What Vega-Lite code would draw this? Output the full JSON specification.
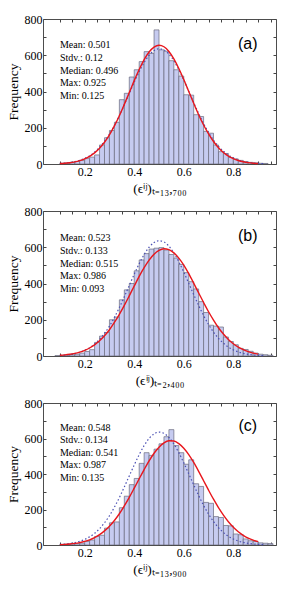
{
  "$schema": "https://vega.github.io/schema/vega-lite/v6.json",
  "padding": {"left": 5, "top": 12, "right": 10, "bottom": 2},
  "spacing": 9,
  "config": {
    "view": {"stroke": "#4d4d4d", "strokeWidth": 1},
    "font": "Liberation Serif",
    "axis": {"domain": false, "grid": false, "tickColor": "#444", "tickSize": -3, "labelFont": "Liberation Serif", "labelFontSize": 12, "labelColor": "#000", "titleFont": "Liberation Serif", "titleFontSize": 13.5, "titleFontWeight": "normal", "titleColor": "#000", "labelOverlap": false, "labelPadding": 4}
  },
  "vconcat": [
    {
      "width": 233, "height": 145,
      "resolve": {"axis": {"x": "independent", "y": "independent"}},
      "layer": [
        {
          "data": {"values": [
            {"lo":0.10,"hi":0.12,"n":4},{"lo":0.12,"hi":0.14,"n":6},{"lo":0.14,"hi":0.16,"n":9},{"lo":0.16,"hi":0.18,"n":14},{"lo":0.18,"hi":0.20,"n":20},
            {"lo":0.20,"hi":0.22,"n":30},{"lo":0.22,"hi":0.24,"n":38},{"lo":0.24,"hi":0.26,"n":50},{"lo":0.26,"hi":0.28,"n":105},{"lo":0.28,"hi":0.30,"n":145},
            {"lo":0.30,"hi":0.32,"n":185},{"lo":0.32,"hi":0.34,"n":230},{"lo":0.34,"hi":0.36,"n":355},{"lo":0.36,"hi":0.38,"n":390},{"lo":0.38,"hi":0.40,"n":480},
            {"lo":0.40,"hi":0.42,"n":520},{"lo":0.42,"hi":0.44,"n":565},{"lo":0.44,"hi":0.46,"n":620},{"lo":0.46,"hi":0.48,"n":610},{"lo":0.48,"hi":0.50,"n":740},
            {"lo":0.50,"hi":0.52,"n":630},{"lo":0.52,"hi":0.54,"n":622},{"lo":0.54,"hi":0.56,"n":570},{"lo":0.56,"hi":0.58,"n":520},{"lo":0.58,"hi":0.60,"n":485},
            {"lo":0.60,"hi":0.62,"n":382},{"lo":0.62,"hi":0.64,"n":380},{"lo":0.64,"hi":0.66,"n":272},{"lo":0.66,"hi":0.68,"n":262},{"lo":0.68,"hi":0.70,"n":180},
            {"lo":0.70,"hi":0.72,"n":170},{"lo":0.72,"hi":0.74,"n":105},{"lo":0.74,"hi":0.76,"n":68},{"lo":0.76,"hi":0.78,"n":58},{"lo":0.78,"hi":0.80,"n":36},
            {"lo":0.80,"hi":0.82,"n":28},{"lo":0.82,"hi":0.84,"n":20},{"lo":0.84,"hi":0.86,"n":13},{"lo":0.86,"hi":0.88,"n":9},{"lo":0.88,"hi":0.90,"n":6},
            {"lo":0.90,"hi":0.92,"n":4},{"lo":0.92,"hi":0.94,"n":3}
          ]},
          "mark": {"type": "bar", "orient": "vertical", "fill": "#c6cbf0", "stroke": "#6a6a7c", "strokeWidth": 0.7, "clip": true},
          "encoding": {
            "x": {"field": "lo", "type": "quantitative", "scale": {"domain": [0.052, 0.952], "nice": false, "zero": false},
                  "axis": {"orient": "bottom", "title": "(ϵⁱʲ)ₜ₌₁₃,₇₀₀", "values": [0.1,0.15,0.2,0.25,0.3,0.35,0.4,0.45,0.5,0.55,0.6,0.65,0.7,0.75,0.8,0.85,0.9,0.95], "labelExpr": "abs(datum.value*5 - round(datum.value*5)) < 0.001 ? format(datum.value, '.1f') : ''", "labelPadding": 5, "titlePadding": 4}},
            "x2": {"field": "hi"},
            "y": {"field": "n", "type": "quantitative", "scale": {"domain": [0, 800], "nice": false},
                  "axis": {"orient": "left", "title": "Frequency", "values": [0,100,200,300,400,500,600,700,800], "labelExpr": "datum.value % 200 == 0 ? datum.label : ''", "titlePadding": 4}},
            "y2": {"datum": 0}
          }
        },
        {
          "data": {"values": [
            {"x":0.10,"y":3.0},{"x":0.12,"y":5.1},{"x":0.14,"y":8.4},{"x":0.16,"y":13.3},{"x":0.18,"y":20.7},{"x":0.20,"y":31.2},{"x":0.22,"y":45.9},{"x":0.24,"y":65.8},{"x":0.26,"y":91.8},{"x":0.28,"y":125},
            {"x":0.30,"y":165},{"x":0.32,"y":213},{"x":0.34,"y":267},{"x":0.36,"y":327},{"x":0.38,"y":389},{"x":0.40,"y":451},{"x":0.42,"y":509},{"x":0.44,"y":560},{"x":0.46,"y":600},{"x":0.48,"y":626},
            {"x":0.50,"y":636},{"x":0.52,"y":629},{"x":0.54,"y":606},{"x":0.56,"y":569},{"x":0.58,"y":520},{"x":0.60,"y":463},{"x":0.62,"y":401},{"x":0.64,"y":339},{"x":0.66,"y":279},{"x":0.68,"y":223},
            {"x":0.70,"y":174},{"x":0.72,"y":132},{"x":0.74,"y":97.8},{"x":0.76,"y":70.5},{"x":0.78,"y":49.5},{"x":0.80,"y":33.8},{"x":0.82,"y":22.5},{"x":0.84,"y":14.6},{"x":0.86,"y":9.2},{"x":0.88,"y":5.7},{"x":0.90,"y":3.4},{"x":0.92,"y":2.0}
          ]},
          "mark": {"type": "line", "color": "#4b50b4", "strokeWidth": 1.2, "strokeDash": [1.5, 2.2], "interpolate": "monotone"},
          "encoding": {
            "x": {"field": "x", "type": "quantitative", "axis": {"orient": "top", "title": null, "labels": false, "values": [0.1,0.15,0.2,0.25,0.3,0.35,0.4,0.45,0.5,0.55,0.6,0.65,0.7,0.75,0.8,0.85,0.9,0.95]}},
            "y": {"field": "y", "type": "quantitative", "axis": {"orient": "right", "title": null, "labels": false, "values": [0,100,200,300,400,500,600,700,800]}}
          }
        },
        {
          "data": {"values": [
            {"x":0.10,"y":2.5},{"x":0.12,"y":4.2},{"x":0.14,"y":7.1},{"x":0.16,"y":11.5},{"x":0.18,"y":18.3},{"x":0.20,"y":28.2},{"x":0.22,"y":42.2},{"x":0.24,"y":61.5},{"x":0.26,"y":87.2},{"x":0.28,"y":120},
            {"x":0.30,"y":161},{"x":0.32,"y":210},{"x":0.34,"y":266},{"x":0.36,"y":329},{"x":0.38,"y":394},{"x":0.40,"y":460},{"x":0.42,"y":521},{"x":0.44,"y":576},{"x":0.46,"y":618},{"x":0.48,"y":645},
            {"x":0.50,"y":655},{"x":0.52,"y":647},{"x":0.54,"y":621},{"x":0.56,"y":580},{"x":0.58,"y":527},{"x":0.60,"y":466},{"x":0.62,"y":400},{"x":0.64,"y":335},{"x":0.66,"y":272},{"x":0.68,"y":215},
            {"x":0.70,"y":166},{"x":0.72,"y":124},{"x":0.74,"y":90},{"x":0.76,"y":63.8},{"x":0.78,"y":43.9},{"x":0.80,"y":29.4},{"x":0.82,"y":19.1},{"x":0.84,"y":12.1},{"x":0.86,"y":7.5},{"x":0.88,"y":4.5},{"x":0.90,"y":2.6}
          ]},
          "mark": {"type": "line", "color": "#e8161c", "strokeWidth": 1.4, "interpolate": "monotone"},
          "encoding": {
            "x": {"field": "x", "type": "quantitative", "axis": null},
            "y": {"field": "y", "type": "quantitative", "axis": null}
          }
        },
        {
          "data": {"values": [
            {"x":0.1,"y":655,"t":"Mean: 0.501"},{"x":0.1,"y":585,"t":"Stdv.: 0.12"},{"x":0.1,"y":515,"t":"Median: 0.496"},{"x":0.1,"y":445,"t":"Max: 0.925"},{"x":0.1,"y":375,"t":"Min: 0.125"}
          ]},
          "mark": {"type": "text", "align": "left", "baseline": "middle", "font": "Liberation Serif", "fontSize": 10, "color": "#000"},
          "encoding": {
            "x": {"field": "x", "type": "quantitative", "axis": null},
            "y": {"field": "y", "type": "quantitative", "axis": null},
            "text": {"field": "t"}
          }
        },
        {
          "data": {"values": [{"x":0.858,"y":660,"t":"(a)"}]},
          "mark": {"type": "text", "align": "center", "baseline": "middle", "font": "Liberation Sans", "fontSize": 16, "color": "#000"},
          "encoding": {
            "x": {"field": "x", "type": "quantitative", "axis": null},
            "y": {"field": "y", "type": "quantitative", "axis": null},
            "text": {"field": "t"}
          }
        }
      ]
    },
    {
      "width": 233, "height": 145,
      "resolve": {"axis": {"x": "independent", "y": "independent"}},
      "layer": [
        {
          "data": {"values": [
            {"lo":0.08,"hi":0.10,"n":2},{"lo":0.10,"hi":0.12,"n":3},{"lo":0.12,"hi":0.14,"n":5},{"lo":0.14,"hi":0.16,"n":7},{"lo":0.16,"hi":0.18,"n":10},{"lo":0.18,"hi":0.20,"n":16},
            {"lo":0.20,"hi":0.22,"n":25},{"lo":0.22,"hi":0.24,"n":35},{"lo":0.24,"hi":0.26,"n":75},{"lo":0.26,"hi":0.28,"n":110},{"lo":0.28,"hi":0.30,"n":130},
            {"lo":0.30,"hi":0.32,"n":200},{"lo":0.32,"hi":0.34,"n":215},{"lo":0.34,"hi":0.36,"n":310},{"lo":0.36,"hi":0.38,"n":365},{"lo":0.38,"hi":0.40,"n":400},
            {"lo":0.40,"hi":0.42,"n":470},{"lo":0.42,"hi":0.44,"n":530},{"lo":0.44,"hi":0.46,"n":565},{"lo":0.46,"hi":0.48,"n":590},{"lo":0.48,"hi":0.50,"n":595},
            {"lo":0.50,"hi":0.52,"n":598},{"lo":0.52,"hi":0.54,"n":585},{"lo":0.54,"hi":0.56,"n":560},{"lo":0.56,"hi":0.58,"n":540},{"lo":0.58,"hi":0.60,"n":505},
            {"lo":0.60,"hi":0.62,"n":460},{"lo":0.62,"hi":0.64,"n":410},{"lo":0.64,"hi":0.66,"n":370},{"lo":0.66,"hi":0.68,"n":300},{"lo":0.68,"hi":0.70,"n":240},
            {"lo":0.70,"hi":0.72,"n":170},{"lo":0.72,"hi":0.74,"n":165},{"lo":0.74,"hi":0.76,"n":160},{"lo":0.76,"hi":0.78,"n":105},{"lo":0.78,"hi":0.80,"n":80},
            {"lo":0.80,"hi":0.82,"n":62},{"lo":0.82,"hi":0.84,"n":42},{"lo":0.84,"hi":0.86,"n":36},{"lo":0.86,"hi":0.88,"n":26},{"lo":0.88,"hi":0.90,"n":16},
            {"lo":0.90,"hi":0.92,"n":10},{"lo":0.92,"hi":0.94,"n":7},{"lo":0.94,"hi":0.96,"n":4}
          ]},
          "mark": {"type": "bar", "orient": "vertical", "fill": "#c6cbf0", "stroke": "#6a6a7c", "strokeWidth": 0.7, "clip": true},
          "encoding": {
            "x": {"field": "lo", "type": "quantitative", "scale": {"domain": [0.052, 0.952], "nice": false, "zero": false},
                  "axis": {"orient": "bottom", "title": "(ϵⁱʲ)ₜ₌₂,₄₀₀", "values": [0.1,0.15,0.2,0.25,0.3,0.35,0.4,0.45,0.5,0.55,0.6,0.65,0.7,0.75,0.8,0.85,0.9,0.95], "labelExpr": "abs(datum.value*5 - round(datum.value*5)) < 0.001 ? format(datum.value, '.1f') : ''", "labelPadding": 5, "titlePadding": 4}},
            "x2": {"field": "hi"},
            "y": {"field": "n", "type": "quantitative", "scale": {"domain": [0, 800], "nice": false},
                  "axis": {"orient": "left", "title": "Frequency", "values": [0,100,200,300,400,500,600,700,800], "labelExpr": "datum.value % 200 == 0 ? datum.label : ''", "titlePadding": 4}},
            "y2": {"datum": 0}
          }
        },
        {
          "data": {"values": [
            {"x":0.10,"y":3.0},{"x":0.12,"y":5.1},{"x":0.14,"y":8.4},{"x":0.16,"y":13.3},{"x":0.18,"y":20.7},{"x":0.20,"y":31.2},{"x":0.22,"y":45.9},{"x":0.24,"y":65.8},{"x":0.26,"y":91.8},{"x":0.28,"y":125},
            {"x":0.30,"y":165},{"x":0.32,"y":213},{"x":0.34,"y":267},{"x":0.36,"y":327},{"x":0.38,"y":389},{"x":0.40,"y":451},{"x":0.42,"y":509},{"x":0.44,"y":560},{"x":0.46,"y":600},{"x":0.48,"y":626},
            {"x":0.50,"y":636},{"x":0.52,"y":629},{"x":0.54,"y":606},{"x":0.56,"y":569},{"x":0.58,"y":520},{"x":0.60,"y":463},{"x":0.62,"y":401},{"x":0.64,"y":339},{"x":0.66,"y":279},{"x":0.68,"y":223},
            {"x":0.70,"y":174},{"x":0.72,"y":132},{"x":0.74,"y":97.8},{"x":0.76,"y":70.5},{"x":0.78,"y":49.5},{"x":0.80,"y":33.8},{"x":0.82,"y":22.5},{"x":0.84,"y":14.6},{"x":0.86,"y":9.2},{"x":0.88,"y":5.7},{"x":0.90,"y":3.4},{"x":0.92,"y":2.0}
          ]},
          "mark": {"type": "line", "color": "#4b50b4", "strokeWidth": 1.2, "strokeDash": [1.5, 2.2], "interpolate": "monotone"},
          "encoding": {
            "x": {"field": "x", "type": "quantitative", "axis": {"orient": "top", "title": null, "labels": false, "values": [0.1,0.15,0.2,0.25,0.3,0.35,0.4,0.45,0.5,0.55,0.6,0.65,0.7,0.75,0.8,0.85,0.9,0.95]}},
            "y": {"field": "y", "type": "quantitative", "axis": {"orient": "right", "title": null, "labels": false, "values": [0,100,200,300,400,500,600,700,800]}}
          }
        },
        {
          "data": {"values": [
            {"x":0.10,"y":3.8},{"x":0.12,"y":6.0},{"x":0.14,"y":9.4},{"x":0.16,"y":14.3},{"x":0.18,"y":21.3},{"x":0.20,"y":31.0},{"x":0.22,"y":44.2},{"x":0.24,"y":61.5},{"x":0.26,"y":83.8},{"x":0.28,"y":111.5},
            {"x":0.30,"y":145},{"x":0.32,"y":185},{"x":0.34,"y":230},{"x":0.36,"y":279},{"x":0.38,"y":332},{"x":0.40,"y":386},{"x":0.42,"y":439},{"x":0.44,"y":487},{"x":0.46,"y":529},{"x":0.48,"y":562},
            {"x":0.50,"y":583},{"x":0.52,"y":592},{"x":0.54,"y":587},{"x":0.56,"y":569},{"x":0.58,"y":540},{"x":0.60,"y":501},{"x":0.62,"y":454},{"x":0.64,"y":402},{"x":0.66,"y":348},{"x":0.68,"y":295},
            {"x":0.70,"y":244},{"x":0.72,"y":198},{"x":0.74,"y":156},{"x":0.76,"y":121},{"x":0.78,"y":91.5},{"x":0.80,"y":67.7},{"x":0.82,"y":49},{"x":0.84,"y":34.6},{"x":0.86,"y":23.9},{"x":0.88,"y":16.2},{"x":0.90,"y":10.6}
          ]},
          "mark": {"type": "line", "color": "#e8161c", "strokeWidth": 1.4, "interpolate": "monotone"},
          "encoding": {
            "x": {"field": "x", "type": "quantitative", "axis": null},
            "y": {"field": "y", "type": "quantitative", "axis": null}
          }
        },
        {
          "data": {"values": [
            {"x":0.1,"y":650,"t":"Mean: 0.523"},{"x":0.1,"y":580,"t":"Stdv.: 0.133"},{"x":0.1,"y":510,"t":"Median: 0.515"},{"x":0.1,"y":440,"t":"Max: 0.986"},{"x":0.1,"y":370,"t":"Min: 0.093"}
          ]},
          "mark": {"type": "text", "align": "left", "baseline": "middle", "font": "Liberation Serif", "fontSize": 10, "color": "#000"},
          "encoding": {
            "x": {"field": "x", "type": "quantitative", "axis": null},
            "y": {"field": "y", "type": "quantitative", "axis": null},
            "text": {"field": "t"}
          }
        },
        {
          "data": {"values": [{"x":0.858,"y":660,"t":"(b)"}]},
          "mark": {"type": "text", "align": "center", "baseline": "middle", "font": "Liberation Sans", "fontSize": 16, "color": "#000"},
          "encoding": {
            "x": {"field": "x", "type": "quantitative", "axis": null},
            "y": {"field": "y", "type": "quantitative", "axis": null},
            "text": {"field": "t"}
          }
        }
      ]
    },
    {
      "width": 233, "height": 142,
      "resolve": {"axis": {"x": "independent", "y": "independent"}},
      "layer": [
        {
          "data": {"values": [
            {"lo":0.10,"hi":0.12,"n":3},{"lo":0.12,"hi":0.14,"n":5},{"lo":0.14,"hi":0.16,"n":6},{"lo":0.16,"hi":0.18,"n":8},{"lo":0.18,"hi":0.20,"n":10},
            {"lo":0.20,"hi":0.22,"n":20},{"lo":0.22,"hi":0.24,"n":28},{"lo":0.24,"hi":0.26,"n":48},{"lo":0.26,"hi":0.28,"n":55},{"lo":0.28,"hi":0.30,"n":95},
            {"lo":0.30,"hi":0.32,"n":125},{"lo":0.32,"hi":0.34,"n":130},{"lo":0.34,"hi":0.36,"n":210},{"lo":0.36,"hi":0.38,"n":275},{"lo":0.38,"hi":0.40,"n":340},
            {"lo":0.40,"hi":0.42,"n":375},{"lo":0.42,"hi":0.44,"n":460},{"lo":0.44,"hi":0.46,"n":520},{"lo":0.46,"hi":0.48,"n":505},{"lo":0.48,"hi":0.50,"n":540},
            {"lo":0.50,"hi":0.52,"n":570},{"lo":0.52,"hi":0.54,"n":610},{"lo":0.54,"hi":0.56,"n":650},{"lo":0.56,"hi":0.58,"n":560},{"lo":0.58,"hi":0.60,"n":520},
            {"lo":0.60,"hi":0.62,"n":455},{"lo":0.62,"hi":0.64,"n":480},{"lo":0.64,"hi":0.66,"n":345},{"lo":0.66,"hi":0.68,"n":330},{"lo":0.68,"hi":0.70,"n":240},
            {"lo":0.70,"hi":0.72,"n":235},{"lo":0.72,"hi":0.74,"n":160},{"lo":0.74,"hi":0.76,"n":155},{"lo":0.76,"hi":0.78,"n":110},{"lo":0.78,"hi":0.80,"n":108},
            {"lo":0.80,"hi":0.82,"n":62},{"lo":0.82,"hi":0.84,"n":58},{"lo":0.84,"hi":0.86,"n":34},{"lo":0.86,"hi":0.88,"n":24},{"lo":0.88,"hi":0.90,"n":20},
            {"lo":0.90,"hi":0.92,"n":12},{"lo":0.92,"hi":0.94,"n":10},{"lo":0.94,"hi":0.96,"n":8}
          ]},
          "mark": {"type": "bar", "orient": "vertical", "fill": "#c6cbf0", "stroke": "#6a6a7c", "strokeWidth": 0.7, "clip": true},
          "encoding": {
            "x": {"field": "lo", "type": "quantitative", "scale": {"domain": [0.052, 0.952], "nice": false, "zero": false},
                  "axis": {"orient": "bottom", "title": "(ϵⁱʲ)ₜ₌₁₃,₉₀₀", "values": [0.1,0.15,0.2,0.25,0.3,0.35,0.4,0.45,0.5,0.55,0.6,0.65,0.7,0.75,0.8,0.85,0.9,0.95], "labelExpr": "abs(datum.value*5 - round(datum.value*5)) < 0.001 ? format(datum.value, '.1f') : ''", "labelPadding": 5, "titlePadding": 4}},
            "x2": {"field": "hi"},
            "y": {"field": "n", "type": "quantitative", "scale": {"domain": [0, 800], "nice": false},
                  "axis": {"orient": "left", "title": "Frequency", "values": [0,100,200,300,400,500,600,700,800], "labelExpr": "datum.value % 200 == 0 ? datum.label : ''", "titlePadding": 4}},
            "y2": {"datum": 0}
          }
        },
        {
          "data": {"values": [
            {"x":0.10,"y":3.0},{"x":0.12,"y":5.1},{"x":0.14,"y":8.4},{"x":0.16,"y":13.3},{"x":0.18,"y":20.7},{"x":0.20,"y":31.2},{"x":0.22,"y":45.9},{"x":0.24,"y":65.8},{"x":0.26,"y":91.8},{"x":0.28,"y":125},
            {"x":0.30,"y":165},{"x":0.32,"y":213},{"x":0.34,"y":267},{"x":0.36,"y":327},{"x":0.38,"y":389},{"x":0.40,"y":451},{"x":0.42,"y":509},{"x":0.44,"y":560},{"x":0.46,"y":600},{"x":0.48,"y":626},
            {"x":0.50,"y":636},{"x":0.52,"y":629},{"x":0.54,"y":606},{"x":0.56,"y":569},{"x":0.58,"y":520},{"x":0.60,"y":463},{"x":0.62,"y":401},{"x":0.64,"y":339},{"x":0.66,"y":279},{"x":0.68,"y":223},
            {"x":0.70,"y":174},{"x":0.72,"y":132},{"x":0.74,"y":97.8},{"x":0.76,"y":70.5},{"x":0.78,"y":49.5},{"x":0.80,"y":33.8},{"x":0.82,"y":22.5},{"x":0.84,"y":14.6},{"x":0.86,"y":9.2},{"x":0.88,"y":5.7},{"x":0.90,"y":3.4},{"x":0.92,"y":2.0}
          ]},
          "mark": {"type": "line", "color": "#4b50b4", "strokeWidth": 1.2, "strokeDash": [1.5, 2.2], "interpolate": "monotone"},
          "encoding": {
            "x": {"field": "x", "type": "quantitative", "axis": {"orient": "top", "title": null, "labels": false, "values": [0.1,0.15,0.2,0.25,0.3,0.35,0.4,0.45,0.5,0.55,0.6,0.65,0.7,0.75,0.8,0.85,0.9,0.95]}},
            "y": {"field": "y", "type": "quantitative", "axis": {"orient": "right", "title": null, "labels": false, "values": [0,100,200,300,400,500,600,700,800]}}
          }
        },
        {
          "data": {"values": [
            {"x":0.10,"y":2.2},{"x":0.12,"y":3.6},{"x":0.14,"y":5.7},{"x":0.16,"y":8.9},{"x":0.18,"y":13.5},{"x":0.20,"y":20.2},{"x":0.22,"y":29.4},{"x":0.24,"y":41.9},{"x":0.26,"y":58.4},{"x":0.28,"y":79.6},
            {"x":0.30,"y":106},{"x":0.32,"y":138},{"x":0.34,"y":176},{"x":0.36,"y":220},{"x":0.38,"y":268},{"x":0.40,"y":320},{"x":0.42,"y":373},{"x":0.44,"y":425},{"x":0.46,"y":474},{"x":0.48,"y":517},
            {"x":0.50,"y":551},{"x":0.52,"y":575},{"x":0.54,"y":587},{"x":0.56,"y":586},{"x":0.58,"y":571},{"x":0.60,"y":545},{"x":0.62,"y":509},{"x":0.64,"y":465},{"x":0.66,"y":415},{"x":0.68,"y":362},
            {"x":0.70,"y":309},{"x":0.72,"y":258},{"x":0.74,"y":211},{"x":0.76,"y":168},{"x":0.78,"y":131},{"x":0.80,"y":100},{"x":0.82,"y":74.9},{"x":0.84,"y":54.7},{"x":0.86,"y":39.1},{"x":0.88,"y":27.3},{"x":0.90,"y":18.6}
          ]},
          "mark": {"type": "line", "color": "#e8161c", "strokeWidth": 1.4, "interpolate": "monotone"},
          "encoding": {
            "x": {"field": "x", "type": "quantitative", "axis": null},
            "y": {"field": "y", "type": "quantitative", "axis": null}
          }
        },
        {
          "data": {"values": [
            {"x":0.1,"y":660,"t":"Mean: 0.548"},{"x":0.1,"y":590,"t":"Stdv.: 0.134"},{"x":0.1,"y":519,"t":"Median: 0.541"},{"x":0.1,"y":448,"t":"Max: 0.987"},{"x":0.1,"y":379,"t":"Min: 0.135"}
          ]},
          "mark": {"type": "text", "align": "left", "baseline": "middle", "font": "Liberation Serif", "fontSize": 10, "color": "#000"},
          "encoding": {
            "x": {"field": "x", "type": "quantitative", "axis": null},
            "y": {"field": "y", "type": "quantitative", "axis": null},
            "text": {"field": "t"}
          }
        },
        {
          "data": {"values": [{"x":0.858,"y":668,"t":"(c)"}]},
          "mark": {"type": "text", "align": "center", "baseline": "middle", "font": "Liberation Sans", "fontSize": 16, "color": "#000"},
          "encoding": {
            "x": {"field": "x", "type": "quantitative", "axis": null},
            "y": {"field": "y", "type": "quantitative", "axis": null},
            "text": {"field": "t"}
          }
        }
      ]
    }
  ]
}
